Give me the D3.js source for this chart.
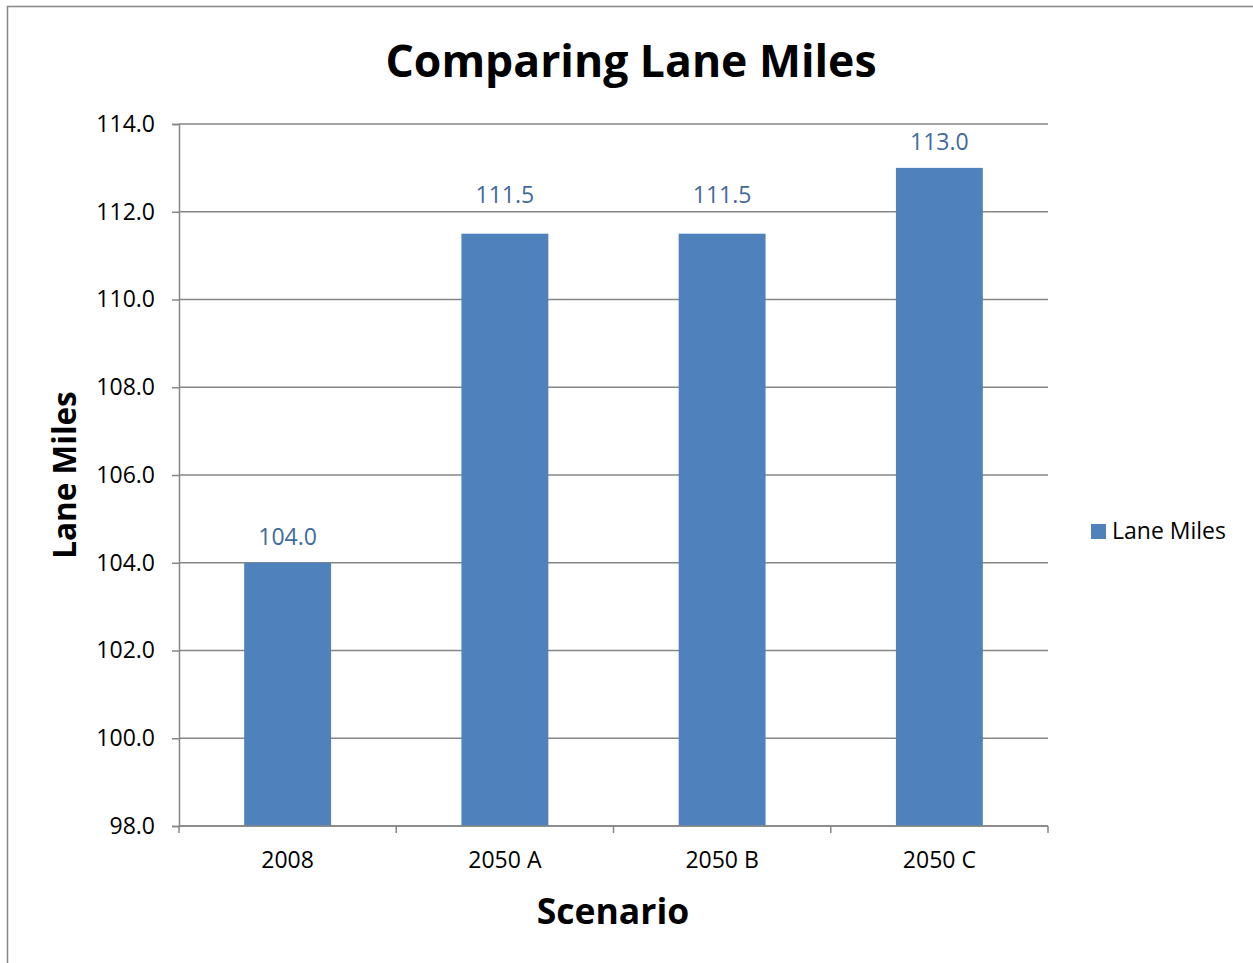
<!DOCTYPE html>
<html>
<head>
<meta charset="utf-8">
<script src="https://cdn.jsdelivr.net/npm/d3@7"></script>
<style>
  html, body { margin: 0; padding: 0; background: #fff; }
  svg { display: block; font-family: "Open Sans", "Noto Sans", sans-serif; }
</style>
</head>
<body>
<svg id="chart" width="1253" height="963"></svg>
<script>
// Lane miles by scenario
const categories = ["2008", "2050 A", "2050 B", "2050 C"];
const laneMiles = [104.0, 111.5, 111.5, 113.0];
const yTicks = [98, 100, 102, 104, 106, 108, 110, 112, 114];
const seriesName = "Lane Miles";

const svg = d3.select("#chart");
const W = 1253, H = 963;
const plot = { left: 179, right: 1048, top: 124, bottom: 826 };
const gridColor = "#868686";
const barColor = "#4F81BD";
const labelColor = "#3F6AA0";
const fs = 23;

// outer chart frame
svg.append("rect")
  .attr("x", 7.5).attr("y", 6.5)
  .attr("width", W).attr("height", H)
  .attr("fill", "none").attr("stroke", gridColor).attr("stroke-width", 1.5);

const x = d3.scaleBand()
  .domain(categories)
  .range([plot.left, plot.right])
  .paddingInner(0.6)
  .paddingOuter(0.3);

const y = d3.scaleLinear()
  .domain([98, 114])
  .range([plot.bottom, plot.top]);

// horizontal gridlines
svg.append("g")
  .selectAll("line")
  .data(yTicks)
  .join("line")
  .attr("x1", plot.left).attr("x2", plot.right)
  .attr("y1", d => y(d)).attr("y2", d => y(d))
  .attr("stroke", gridColor).attr("stroke-width", 1.5);

// y axis
const yAxis = svg.append("g")
  .attr("transform", `translate(${plot.left},0)`)
  .call(d3.axisLeft(y).tickValues(yTicks).tickFormat(d3.format(".1f")).tickSize(7).tickPadding(17));
yAxis.select(".domain").attr("stroke", gridColor).attr("stroke-width", 1.5);
yAxis.selectAll(".tick line").attr("stroke", gridColor).attr("stroke-width", 1.5);
yAxis.selectAll(".tick text")
  .attr("fill", "#000").attr("font-size", fs).attr("font-family", "Open Sans, sans-serif");

const rows = categories.map((c, i) => ({ c, v: laneMiles[i] }));

// bars
svg.append("g")
  .selectAll("rect")
  .data(rows)
  .join("rect")
  .attr("x", d => x(d.c))
  .attr("width", x.bandwidth())
  .attr("y", d => y(d.v))
  .attr("height", d => y(98) - y(d.v))
  .attr("fill", barColor);

// value labels: sit just above the bar, lifted clear of any gridline they would cross
function labelBaseline(v) {
  let base = y(v) - 18;
  const top = base - 17, bottom = base + 2;
  const hit = yTicks.map(y).find(g => g > top && g < bottom);
  if (hit !== undefined) base = hit - 9;
  return base;
}
svg.append("g")
  .selectAll("text")
  .data(rows)
  .join("text")
  .attr("x", d => x(d.c) + x.bandwidth() / 2)
  .attr("y", d => labelBaseline(d.v))
  .attr("text-anchor", "middle")
  .attr("font-size", fs)
  .attr("fill", labelColor)
  .text(d => d3.format(".1f")(d.v));

// x axis with boundary ticks between categories
const xg = svg.append("g");
xg.append("line")
  .attr("x1", plot.left).attr("x2", plot.right)
  .attr("y1", plot.bottom).attr("y2", plot.bottom)
  .attr("stroke", gridColor).attr("stroke-width", 1.5);
const step = x.step();
const boundaries = d3.range(categories.length + 1).map(i => plot.left + i * step);
xg.selectAll("line.bt")
  .data(boundaries)
  .join("line")
  .attr("class", "bt")
  .attr("x1", d => d).attr("x2", d => d)
  .attr("y1", plot.bottom).attr("y2", plot.bottom + 7)
  .attr("stroke", gridColor).attr("stroke-width", 1.5);
xg.selectAll("text")
  .data(categories)
  .join("text")
  .attr("x", d => x(d) + x.bandwidth() / 2)
  .attr("y", 868)
  .attr("text-anchor", "middle")
  .attr("font-size", fs)
  .attr("fill", "#000")
  .text(d => d);

// title
svg.append("text")
  .attr("x", 631).attr("y", 77)
  .attr("text-anchor", "middle")
  .attr("font-size", 44.5).attr("font-weight", "bold")
  .text("Comparing Lane Miles");

// axis titles
svg.append("text")
  .attr("x", 613).attr("y", 924)
  .attr("text-anchor", "middle")
  .attr("font-size", 35.5).attr("font-weight", "bold")
  .text("Scenario");

svg.append("text")
  .attr("transform", "translate(76,475) rotate(-90)")
  .attr("text-anchor", "middle")
  .attr("font-size", 31.5).attr("font-weight", "bold")
  .text("Lane Miles");

// legend
const lg = svg.append("g").attr("transform", "translate(1091,524)");
lg.append("rect").attr("width", 15).attr("height", 15).attr("fill", barColor);
lg.append("text").attr("x", 21).attr("y", 15)
  .attr("font-size", fs).attr("fill", "#000")
  .text(seriesName);
</script>
</body>
</html>
